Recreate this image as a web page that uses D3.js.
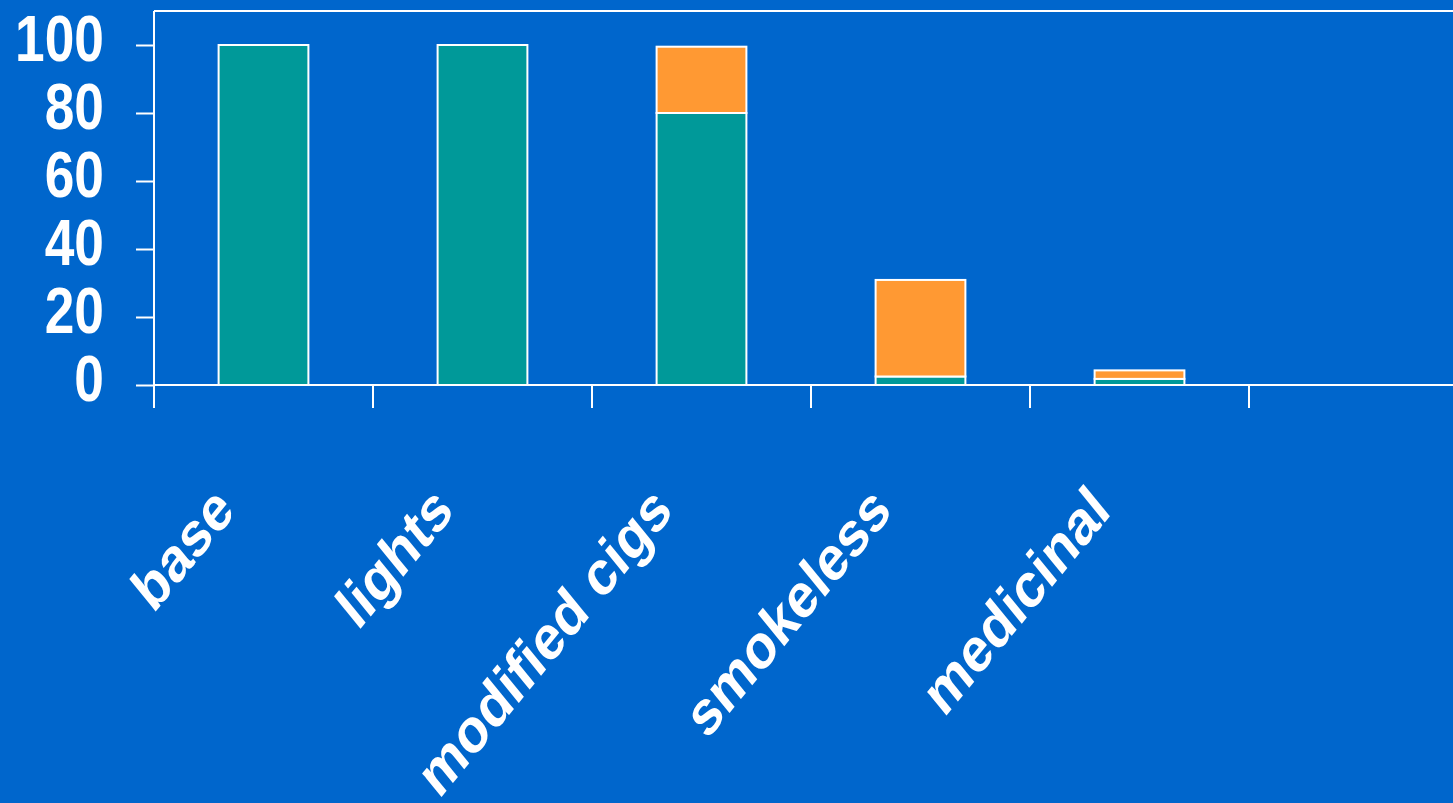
<!DOCTYPE html>
<html>
<head>
<meta charset="utf-8">
<script src="https://cdn.jsdelivr.net/npm/d3@7"></script>
<style>
  html, body { margin: 0; padding: 0; background: #0066CC; overflow: hidden; }
  svg { display: block; }
</style>
</head>
<body>
<svg id="chart" width="1453" height="803"></svg>
<script>
// ---- data ----
const categories = ["base", "lights", "modified cigs", "smokeless", "medicinal"];
const seriesTeal = [100, 100, 80, 2.5, 1.8];
const seriesOrange = [0, 0, 19.5, 28.4, 2.5];
const yTickValues = [0, 20, 40, 60, 80, 100];

// ---- layout ----
const W = 1453, H = 803;
const plotLeft = 154, plotTop = 11, zeroY = 385, bandW = 219;
const squish = 0.82;
const colors = { teal: "#009999", orange: "#FF9933", bg: "#0066CC", fg: "#FFFFFF" };

const svg = d3.select("#chart");
svg.append("rect").attr("width", W).attr("height", H).attr("fill", colors.bg);

const x = d3.scaleBand().domain(categories).range([plotLeft, plotLeft + bandW * categories.length]).paddingInner(0).paddingOuter(0);
const y = d3.scaleLinear().domain([0, 110]).range([zeroY, plotTop]);

// stacked data
const rows = categories.map((c, i) => ({ cat: c, teal: seriesTeal[i], orange: seriesOrange[i] }));
const stack = d3.stack().keys(["teal", "orange"])(rows);

const barW = x.bandwidth() * 0.41;
const g = svg.append("g");
stack.forEach(layer => {
  g.selectAll(null).data(layer.filter(d => d[1] - d[0] > 0)).join("rect")
    .attr("x", d => x(d.data.cat) + (x.bandwidth() - barW) / 2)
    .attr("y", d => y(d[1]))
    .attr("width", barW)
    .attr("height", d => y(d[0]) - y(d[1]))
    .attr("fill", colors[layer.key])
    .attr("stroke", colors.fg)
    .attr("stroke-width", 2);
});

// frame lines: top, left, zero baseline
svg.append("line").attr("x1", plotLeft).attr("x2", W).attr("y1", y(110)).attr("y2", y(110))
  .attr("stroke", colors.fg).attr("stroke-width", 2);
svg.append("line").attr("x1", plotLeft).attr("x2", plotLeft).attr("y1", y(110)).attr("y2", zeroY + 23)
  .attr("stroke", colors.fg).attr("stroke-width", 2);
svg.append("line").attr("x1", plotLeft).attr("x2", W).attr("y1", y(0)).attr("y2", y(0))
  .attr("stroke", colors.fg).attr("stroke-width", 2);

// x ticks at band boundaries
const boundaries = categories.map(c => x(c)).concat([x.range()[1]]);
svg.selectAll(null).data(boundaries).join("line")
  .attr("x1", d => d).attr("x2", d => d)
  .attr("y1", zeroY).attr("y2", zeroY + 23)
  .attr("stroke", colors.fg).attr("stroke-width", 2);

// y axis
const yAxis = d3.axisLeft(y).tickValues(yTickValues).tickSize(18).tickFormat(d3.format("d"));
const ya = svg.append("g").attr("transform", `translate(${plotLeft},0)`).call(yAxis);
ya.select(".domain").remove();
ya.selectAll(".tick line").attr("stroke", colors.fg).attr("stroke-width", 2);
ya.selectAll(".tick text")
  .attr("fill", colors.fg)
  .attr("font-family", "'Liberation Sans', Arial, sans-serif")
  .attr("font-weight", "bold")
  .attr("font-size", 65)
  .attr("x", -50 / squish)
  .attr("dy", "0.24em")
  .attr("transform", `scale(${squish},1)`);

// x labels
svg.selectAll(null).data(categories).join("text")
  .attr("transform", d => `translate(${x(d) + x.bandwidth() / 2 - 27},${513}) scale(${squish},1) rotate(-45)`)
  .attr("text-anchor", "end")
  .attr("fill", colors.fg)
  .attr("font-family", "'Liberation Sans', Arial, sans-serif")
  .attr("font-weight", "bold")
  .attr("font-size", 63)
  .text(d => d);
</script>
</body>
</html>
